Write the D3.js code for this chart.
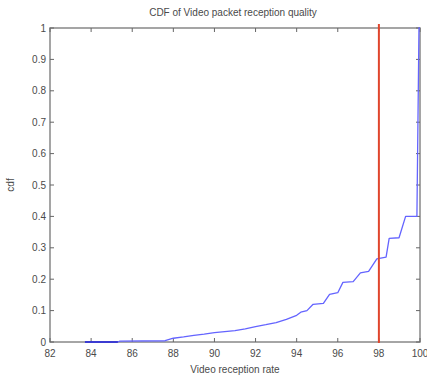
<!DOCTYPE html>
<html>
<head>
<meta charset="utf-8">
<script src="https://cdn.jsdelivr.net/npm/d3@7"></script>
<style>
  body { margin: 0; background: #fff; }
  text { font-family: "Liberation Sans", Arial, sans-serif; fill: #4a4a4a; }
</style>
</head>
<body>
<script>
// CDF points (reception rate %, cdf)
const rate = [83.7, 85.3, 85.4, 87.6, 88.0, 88.5, 89.0, 89.5, 90.0, 90.5, 91.0, 91.5,
  92.0, 92.5, 93.0, 93.5, 94.0, 94.2, 94.5, 94.8, 95.3, 95.6, 96.0, 96.25, 96.75,
  97.1, 97.5, 97.9, 98.35, 98.5, 98.98, 99.3, 99.85, 99.95, 100];
const cdf = [0, 0, 0.003, 0.004, 0.012, 0.016, 0.021, 0.025, 0.03, 0.033, 0.036, 0.042,
  0.049, 0.055, 0.062, 0.072, 0.085, 0.095, 0.1, 0.12, 0.123, 0.152, 0.157, 0.19, 0.192,
  0.22, 0.225, 0.265, 0.27, 0.33, 0.332, 0.4, 0.4, 1.0, 1.0];
const threshold = 98;
const xTicks = [82, 84, 86, 88, 90, 92, 94, 96, 98, 100];
const yTicks = [0, 0.1, 0.2, 0.3, 0.4, 0.5, 0.6, 0.7, 0.8, 0.9, 1];

const width = 427, height = 379;
const margin = {top: 28, right: 7, bottom: 37, left: 50};

let svg = d3.select("body").append("svg")
  .attr("width", width)
  .attr("height", height);

let x = d3.scaleLinear().domain([82, 100]).range([margin.left, width - margin.right]);
let y = d3.scaleLinear().domain([0, 1]).range([height - margin.bottom, margin.top]);

// box
svg.append("rect")
  .attr("x", x(82)).attr("y", y(1))
  .attr("width", x(100) - x(82)).attr("height", y(0) - y(1))
  .attr("fill", "none").attr("stroke", "#888").attr("stroke-width", 1.5);

// ticks pointing inwards on all sides
let tl = 4;
xTicks.forEach(function(t) {
  svg.append("line").attr("x1", x(t)).attr("x2", x(t)).attr("y1", y(0)).attr("y2", y(0) - tl)
    .attr("stroke", "#666");
  svg.append("line").attr("x1", x(t)).attr("x2", x(t)).attr("y1", y(1)).attr("y2", y(1) + tl)
    .attr("stroke", "#666");
  svg.append("text").text(t)
    .attr("x", x(t)).attr("y", y(0) + 15)
    .attr("text-anchor", "middle").attr("font-size", "10px");
});
yTicks.forEach(function(t) {
  svg.append("line").attr("x1", x(82)).attr("x2", x(82) + tl).attr("y1", y(t)).attr("y2", y(t))
    .attr("stroke", "#666");
  svg.append("line").attr("x1", x(100)).attr("x2", x(100) - tl).attr("y1", y(t)).attr("y2", y(t))
    .attr("stroke", "#666");
  svg.append("text").text(t)
    .attr("x", x(82) - 4).attr("y", y(t) + 3.5)
    .attr("text-anchor", "end").attr("font-size", "10px");
});

// cdf curve
let pts = d3.zip(rate, cdf);
let line = d3.line().x(function(d) { return x(d[0]); }).y(function(d) { return y(d[1]); });
svg.append("path")
  .datum(pts)
  .attr("d", line)
  .attr("fill", "none")
  .attr("stroke", "#6464ff")
  .attr("stroke-width", 1.3)
  .attr("stroke-linejoin", "round");

// the flat start looks darker in the original (overdrawn points)
svg.append("path")
  .datum(pts.slice(0, 2))
  .attr("d", line)
  .attr("fill", "none")
  .attr("stroke", "#2828c8")
  .attr("stroke-width", 1.5);

// threshold line
svg.append("line")
  .attr("x1", x(threshold)).attr("x2", x(threshold))
  .attr("y1", y(0) + 1).attr("y2", y(1) - 4)
  .attr("stroke", "#e0452c").attr("stroke-width", 2);

// labels
svg.append("text").text("CDF of Video packet reception quality")
  .attr("x", 233).attr("y", 16)
  .attr("text-anchor", "middle").attr("font-size", "10px");
svg.append("text").text("Video reception rate")
  .attr("x", x(91)).attr("y", 373)
  .attr("text-anchor", "middle").attr("font-size", "10px");
svg.append("text").text("cdf")
  .attr("transform", "translate(14," + y(0.5) + ")rotate(-90)")
  .attr("text-anchor", "middle").attr("font-size", "10px");
</script>
</body>
</html>
